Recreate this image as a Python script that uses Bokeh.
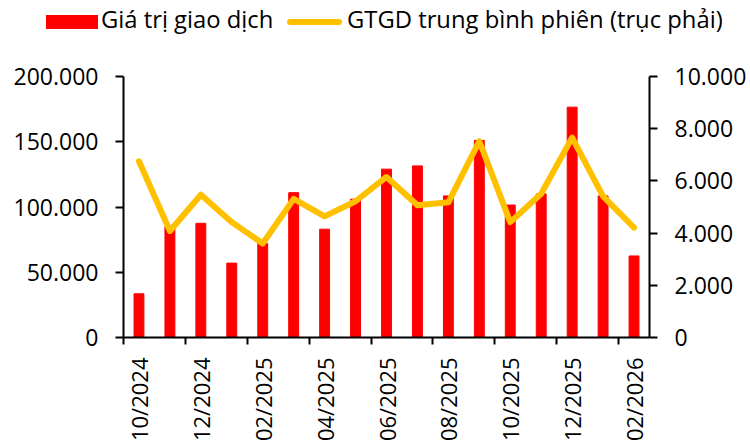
import math
from bokeh.plotting import figure
from bokeh.layouts import column
from bokeh.models import (ColumnDataSource, Range1d, LinearAxis, FixedTicker,
                          Div)
from bokeh.embed import file_html
from bokeh.resources import INLINE

months = ["10/2024", "11/2024", "12/2024", "01/2025", "02/2025", "03/2025",
          "04/2025", "05/2025", "06/2025", "07/2025", "08/2025", "09/2025",
          "10/2025", "11/2025", "12/2025", "01/2026", "02/2026"]
gtgd = [33500, 85000, 87500, 57000, 72000, 111000, 83000, 106000, 129000,
        131500, 108500, 151000, 101500, 110000, 176500, 108500, 62500]
gtgd_avg = [6750, 4080, 5470, 4420, 3600, 5310, 4640, 5220, 6150, 5070,
            5180, 7520, 4420, 5510, 7660, 5410, 4210]
left_ticks = [0, 50000, 100000, 150000, 200000]
left_labels = ["0", "50.000", "100.000", "150.000", "200.000"]
right_ticks = [0, 2000, 4000, 6000, 8000, 10000]
right_labels = ["0", "2.000", "4.000", "6.000", "8.000", "10.000"]
label_bar = "Giá trị giao dịch"
label_line = "GTGD trung bình phiên (trục phải)"

FONT = "Open Sans"
RED = "#FF0000"
GOLD = "#FFC000"
n = len(months)
xc = [i + 0.5 for i in range(n)]
src = ColumnDataSource(dict(x=xc, v=gtgd, a=gtgd_avg))

# ---------------- legend strip ----------------
legend_html = (
    f'<div style="position:relative;width:749px;height:44px;'
    f'font-family:\'{FONT}\';font-size:23.8px;line-height:31px;color:black;'
    f'white-space:nowrap;">'
    f'<span style="position:absolute;left:46px;top:15px;width:52px;'
    f'height:14px;background:{RED};"></span>'
    f'<span style="position:absolute;left:101px;top:4px;">{label_bar}</span>'
    f'<span style="position:absolute;left:287px;top:19px;width:55px;'
    f'height:6px;border-radius:3px;background:{GOLD};"></span>'
    f'<span style="position:absolute;left:347px;top:4px;">{label_line}</span>'
    f'</div>'
)
lf = Div(text=legend_html, width=749, height=44, margin=0)

# ---------------- main chart ----------------
p = figure(width=749, height=400, output_backend="svg",
           toolbar_location=None, x_range=Range1d(0, n),
           y_range=Range1d(0, 200000),
           min_border_left=123, min_border_right=97, min_border_top=32,
           min_border_bottom=104)
p.outline_line_color = None
p.xgrid.visible = False
p.ygrid.visible = False

p.extra_y_ranges = {"right": Range1d(0, 10000)}

bars = p.vbar(x="x", top="v", width=0.32, source=src, color=RED)
line = p.line(x="x", y="a", source=src, y_range_name="right",
              line_color=GOLD, line_width=6, line_join="round",
              line_cap="round")

ya = p.yaxis[0]
ya.ticker = FixedTicker(ticks=left_ticks, minor_ticks=[])
ya.major_label_overrides = {t: l for t, l in zip(left_ticks, left_labels)}

ra = LinearAxis(y_range_name="right")
ra.ticker = FixedTicker(ticks=right_ticks, minor_ticks=[])
ra.major_label_overrides = {t: l for t, l in zip(right_ticks, right_labels)}
p.add_layout(ra, "right")

for ax in (ya, ra):
    ax.axis_line_width = 2
    ax.axis_line_color = "black"
    ax.major_tick_line_width = 2
    ax.major_tick_line_color = "black"
    ax.major_tick_out = 8
    ax.major_tick_in = 0
    ax.minor_tick_line_color = None
    ax.major_label_text_font = FONT
    ax.major_label_text_font_size = "23px"
    ax.major_label_text_color = "black"
    ax.major_label_standoff = 17

xa = p.xaxis[0]
lab_pos = [xc[i] for i in range(0, n, 2)]
xa.ticker = FixedTicker(ticks=lab_pos, minor_ticks=list(range(0, n, 2)))
xa.major_label_overrides = {xc[i]: months[i] for i in range(0, n, 2)}
xa.major_label_orientation = math.pi / 2
xa.axis_line_width = 2
xa.axis_line_color = "black"
xa.major_tick_line_color = None
xa.major_tick_out = 7
xa.major_tick_in = 0
xa.minor_tick_line_color = "black"
xa.minor_tick_line_width = 2
xa.minor_tick_out = 7
xa.minor_tick_in = 0
xa.major_label_text_font = FONT
xa.major_label_text_font_size = "22px"
xa.major_label_text_color = "black"
xa.major_label_standoff = 13

layout = column(lf, p, spacing=0)
open("out.html", "w").write(file_html(layout, INLINE))
